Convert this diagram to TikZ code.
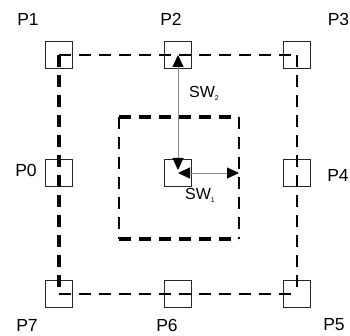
\documentclass[tikz,border=0pt]{standalone}
\usepackage{fontspec}
\setmainfont{Liberation Sans}
\usetikzlibrary{arrows.meta}
\begin{document}
\begin{tikzpicture}[x=1pt,y=-1pt,
  cell/.style={draw=black!85, line width=1.1pt, minimum size=27pt, inner sep=0pt},
  plabel/.style={font=\fontsize{17.5}{17.5}\selectfont, inner sep=0pt},
  swlabel/.style={font=\fontsize{16}{16}\selectfont, inner sep=0pt, anchor=base west},
  ring/.style={dash pattern=on 12pt off 8pt},
  tipA/.tip={Triangle[length=12pt,width=11pt,color=black]},
  measure/.style={draw=black!45, line width=0.9pt, tipA-tipA}
]
\useasboundingbox (0,0) rectangle (350,336);

% sample cells
\node[cell] (P1) at (59,55) {};
\node[cell] (P2) at (178,55) {};
\node[cell] (P3) at (297,55) {};
\node[cell] (P0) at (59,173) {};
\node[cell] (C)  at (178,173) {};
\node[cell] (P4) at (297,173) {};
\node[cell] (P7) at (59,294) {};
\node[cell] (P6) at (178,294) {};
\node[cell] (P5) at (297,294) {};

% cell labels
\node[plabel] (L1) at (28,19.5) {P1};
\node[plabel] (L2) at (171,19.5) {P2};
\node[plabel] (L3) at (338.5,19.5) {P3};
\node[plabel] (L0) at (26,170) {P0};
\node[plabel] (L4) at (338,175) {P4};
\node[plabel] (L7) at (27,325) {P7};
\node[plabel] (L6) at (167,325) {P6};
\node[plabel] (L5) at (334,325) {P5};

% outer window
\draw[ring, line width=2.2pt] (P1.center) -- (P3.center);
\draw[ring, line width=3.5pt] (P1.center) -- (P7.center);
\draw[ring, line width=2.8pt] (P3.center) -- (P5.center);
\draw[ring, line width=1.5pt] (P7.center) -- (P5.center);

% inner window
\coordinate (ia) at (119,117);
\coordinate (ib) at (239,117);
\coordinate (ic) at (239,239);
\coordinate (id) at (119,239);
\draw[ring, line width=3.2pt] (ia) -- (ib);
\draw[ring, line width=1.3pt] (ia) -- (id);
\draw[ring, line width=2.2pt] (ib) -- (ic);
\draw[ring, line width=3.5pt] (id) -- (ic);

% window sizes
\draw[measure] ([yshift=3pt]C.center) -- (P2.center);
\draw[measure] (C.center) -- (C.center -| ib);
\node[swlabel] (S2) at (189,98) {SW\raisebox{-3pt}{\fontsize{7}{7}\selectfont 2}};
\node[swlabel] (S1) at (185,200) {SW\raisebox{-3pt}{\fontsize{7}{7}\selectfont 1}};
\end{tikzpicture}
\end{document}
